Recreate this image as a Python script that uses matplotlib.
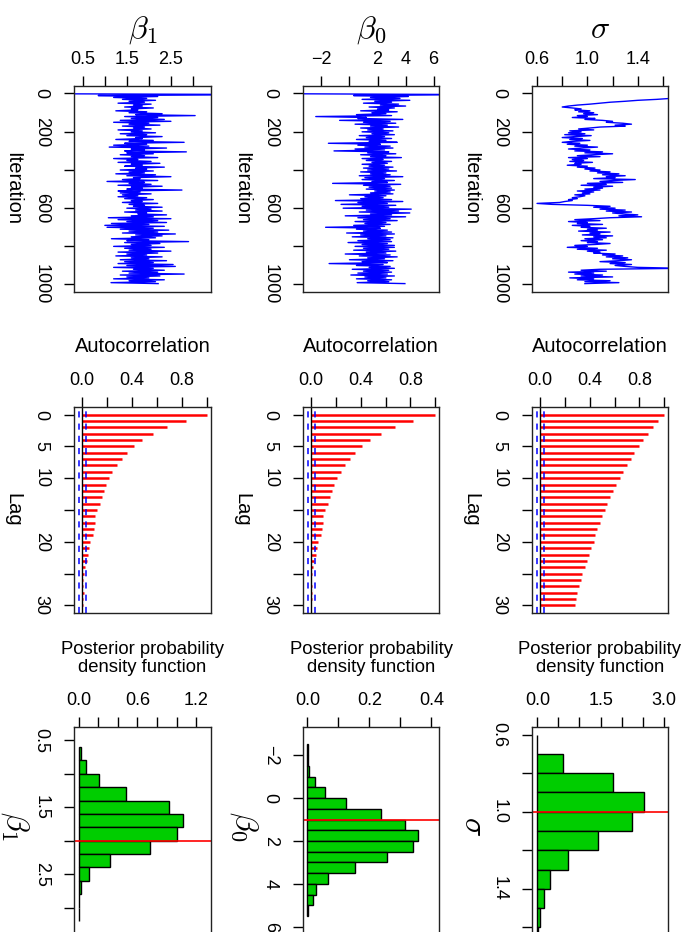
import numpy as np
import matplotlib
matplotlib.use("Agg")
import matplotlib.pyplot as plt

plt.rcParams['font.family'] = ['Liberation Sans', 'DejaVu Sans']
plt.rcParams['mathtext.fontset'] = 'cm'

# ---- MCMC traces (every 5th iteration) ----
iters = np.arange(1, 1001, 5)

beta1_trace = [
    -1.0, 5.0, 0.85, 2.2, 1.2, 1.95, 1.4, 2.15, 1.55, 1.9,
    1.3, 2.05, 1.65, 1.85, 1.45, 2.1, 1.6, 1.75, 1.25, 1.95,
    1.55, 2.3, 1.7, 3.05, 1.45, 2.2, 1.6, 2.35, 1.35, 2.5,
    1.2, 2.0, 1.55, 2.25, 1.4, 1.9, 1.65, 2.05, 1.3, 1.85,
    1.6, 2.15, 1.35, 1.95, 1.5, 2.3, 1.7, 1.85, 1.25, 2.1,
    1.55, 2.8, 1.45, 1.95, 1.2, 2.0, 1.1, 2.4, 1.6, 1.9,
    1.45, 2.85, 1.5, 2.1, 1.35, 1.9, 1.6, 2.2, 1.2, 1.75,
    1.5, 2.05, 1.3, 2.25, 1.6, 1.85, 1.45, 2.35, 1.7, 1.95,
    1.35, 2.1, 1.55, 1.9, 1.25, 2.15, 1.5, 2.5, 1.65, 1.8,
    1.4, 2.2, 1.05, 1.9, 1.55, 2.05, 1.3, 2.3, 1.6, 1.85,
    1.5, 2.75, 1.3, 1.8, 1.35, 2.05, 1.4, 1.75, 1.3, 1.95,
    1.45, 2.1, 1.6, 1.85, 1.4, 2.2, 1.55, 1.9, 1.65, 2.3,
    1.5, 2.05, 1.7, 2.3, 1.45, 1.95, 1.75, 2.4, 1.6, 2.1,
    1.08, 2.5, 1.3, 2.2, 1.5, 2.4, 1.15, 2.0, 1.0, 2.35,
    1.05, 2.1, 1.35, 2.45, 1.55, 2.2, 1.4, 2.6, 1.7, 2.3,
    1.6, 2.15, 1.15, 2.0, 1.5, 2.9, 1.45, 2.25, 1.6, 2.05,
    1.2, 2.35, 1.45, 2.05, 1.55, 2.5, 1.3, 2.2, 1.5, 1.95,
    1.25, 2.3, 1.6, 2.0, 1.35, 2.4, 1.45, 2.1, 1.3, 2.55,
    1.5, 2.6, 1.2, 2.1, 1.65, 2.35, 1.4, 2.2, 1.55, 2.8,
    1.35, 2.25, 1.5, 2.0, 1.2, 2.35, 1.55, 2.15, 1.14, 2.21,
]

beta0_trace = [
    -6.0, 9.0, 0.3, 4.2, 1.5, 3.6, 0.9, 4.3, 1.8, 3.0,
    1.0, 3.5, 2.2, 4.0, 1.4, 3.2, 2.0, 2.8, 0.8, 3.4,
    1.6, 2.6, 0.5, 3.0, -2.4, 1.2, 0.6, 3.8, -0.7, 2.9,
    1.0, 3.3, 0.4, 2.7, 1.5, 3.5, 0.8, 2.4, 1.3, 3.1,
    0.9, 2.8, 1.6, 3.2, 0.7, 2.5, 1.2, 3.0, 0.5, 2.6,
    1.4, 3.4, -1.5, 2.2, 0.6, 2.9, 1.1, 3.1, 0.4, 2.5,
    -1.1, 2.8, 1.3, 3.3, 0.8, 2.6, 1.5, 3.7, 0.9, 2.4,
    1.2, 3.0, 1.6, 2.7, 0.9, 2.5, 1.4, 3.1, 1.0, 2.8,
    1.3, 3.35, 0.8, 2.6, 1.5, 2.9, 0.7, 3.8, 1.1, 2.5,
    0.9, 3.2, 1.6, 2.7, -1.2, 3.65, 1.0, 2.9, 1.4, 3.0,
    1.2, 3.2, 1.8, 2.9, 1.5, 3.1, 0.0, 2.6, 1.1, 2.4,
    0.8, 3.0, -1.0, 3.8, 0.6, 2.7, -0.6, 3.3, 0.9, 2.8,
    -0.45, 4.4, 1.2, 3.5, 0.7, 4.3, 1.5, 3.0, -0.3, 4.0,
    0.6, 2.9, 1.0, 3.4, 0.4, 2.6, 1.1, 2.9, 0.3, 2.5,
    -1.7, 2.2, 0.5, 2.7, 1.0, 3.0, -0.2, 3.2, 0.8, 2.6,
    0.2, 3.1, 1.3, 2.9, 0.6, 3.0, -0.1, 2.7, 0.9, 3.2,
    0.4, 3.2, 1.0, 2.8, 0.3, 3.3, 1.2, 2.6, -0.3, 2.9,
    0.7, 3.4, 1.3, 2.5, 0.0, 3.1, 0.9, 2.7, -1.45, 2.4,
    0.5, 2.9, 1.4, 3.2, 0.2, 2.8, 1.0, 3.0, 0.6, 2.7,
    0.1, 3.2, 1.1, 2.6, 0.5, 3.0, 1.3, 2.8, 0.55, 3.95,
]

sigma_trace = [
    2.6, 2.3, 2.05, 1.85, 1.72, 1.66, 1.55, 1.40, 1.30, 1.18,
    1.10, 1.02, 0.92, 0.85, 0.80, 0.88, 0.95, 0.90, 1.02, 0.93,
    1.05, 0.97, 1.08, 0.92, 1.00, 0.88, 1.06, 0.98, 1.12, 1.20,
    1.15, 1.28, 1.35, 1.22, 1.30, 1.10, 1.02, 0.93, 1.05, 0.86,
    0.95, 0.85, 0.98, 0.82, 1.03, 0.90, 0.80, 0.96, 0.86, 1.02,
    0.88, 0.80, 0.94, 0.84, 1.00, 0.90, 1.08, 0.95, 0.85, 1.02,
    0.90, 1.12, 0.98, 1.20, 1.05, 0.92, 1.10, 0.85, 1.00, 0.88,
    0.97, 0.86, 1.04, 0.90, 0.95, 0.84, 1.00, 0.92, 1.06, 0.98,
    1.10, 1.02, 1.18, 1.08, 1.25, 1.12, 1.30, 1.15, 1.22, 1.05,
    1.38, 1.20, 1.10, 1.28, 1.00, 1.15, 0.95, 1.20, 1.05, 1.12,
    0.98, 1.10, 0.92, 1.05, 0.96, 1.02, 0.90, 0.98, 0.94, 0.88,
    0.92, 0.85, 0.88, 0.82, 0.78, 0.60, 0.72, 1.00, 1.18, 1.05,
    1.22, 1.10, 1.30, 1.15, 1.35, 1.20, 1.28, 1.40, 1.25, 1.43,
    1.18, 1.05, 0.90, 1.10, 0.85, 1.00, 0.92, 1.12, 0.88, 1.02,
    0.95, 1.15, 1.00, 1.08, 0.93, 1.18, 1.02, 1.10, 0.96, 1.20,
    1.05, 1.15, 0.98, 1.12, 0.95, 1.08, 1.00, 1.18, 1.06, 0.90,
    1.00, 0.84, 1.08, 0.92, 1.15, 1.00, 1.10, 1.05, 1.22, 1.12,
    1.28, 1.15, 1.32, 1.20, 1.35, 1.25, 1.10, 1.30, 1.18, 1.35,
    1.22, 1.30, 1.40, 1.75, 1.10, 0.95, 1.15, 0.85, 1.05, 0.90,
    1.12, 0.95, 1.20, 0.86, 1.05, 0.92, 1.18, 0.98, 1.25, 0.98,
]

# ---- autocorrelations, lags 0..30 ----
lags = list(range(31))
beta1_acf = [1.0, 0.83, 0.68, 0.565, 0.48, 0.41, 0.36, 0.315, 0.276, 0.24,
             0.21, 0.19, 0.17, 0.16, 0.138, 0.117, 0.10, 0.10, 0.092, 0.084,
             0.065, 0.054, 0.049, 0.035, 0.024, 0.016, 0.005, 0.003, 0.013,
             0.008, 0.005]
beta0_acf = [1.0, 0.82, 0.675, 0.56, 0.475, 0.41, 0.357, 0.31, 0.27, 0.24,
             0.21, 0.185, 0.165, 0.15, 0.133, 0.108, 0.092, 0.092, 0.084,
             0.076, 0.057, 0.043, 0.035, 0.024, 0.011, 0.008, 0.0, 0.008,
             0.005, 0.003, 0.0]
sigma_acf = [1.0, 0.95, 0.91, 0.87, 0.83, 0.80, 0.76, 0.73, 0.70, 0.67,
             0.64, 0.61, 0.59, 0.565, 0.54, 0.52, 0.50, 0.48, 0.46, 0.445,
             0.43, 0.41, 0.39, 0.38, 0.36, 0.34, 0.33, 0.315, 0.30, 0.29,
             0.28]
acf_band = 0.028

# ---- posterior histograms (bin edges and densities) ----
beta1_edges = [0.6, 0.8, 1.0, 1.2, 1.4, 1.6, 1.8, 2.0, 2.2, 2.4, 2.6, 2.8, 3.0, 3.2]
beta1_dens = [0.024, 0.079, 0.203, 0.48, 0.92, 1.07, 1.00, 0.73, 0.32, 0.11,
              0.02, 0.005, 0.0]
beta0_edges = [-2.5, -2.0, -1.5, -1.0, -0.5, 0.0, 0.5, 1.0, 1.5, 2.0, 2.5,
               3.0, 3.5, 4.0, 4.5, 5.0, 5.5]
beta0_dens = [0.002, 0.002, 0.004, 0.025, 0.056, 0.125, 0.239, 0.316, 0.358,
              0.341, 0.258, 0.154, 0.068, 0.028, 0.018, 0.003]
sigma_edges = [0.6, 0.7, 0.8, 0.9, 1.0, 1.1, 1.2, 1.3, 1.4, 1.5, 1.6, 1.7]
sigma_dens = [0.0, 0.61, 1.805, 2.526, 2.249, 1.433, 0.72, 0.293, 0.158,
              0.063, 0.01]
true_vals = [2.0, 1.0, 1.0]

names = [r'$\beta_1$', r'$\beta_0$', r'$\sigma$']
traces = [beta1_trace, beta0_trace, sigma_trace]
acfs = [beta1_acf, beta0_acf, sigma_acf]
edges = [beta1_edges, beta0_edges, sigma_edges]
dens = [beta1_dens, beta0_dens, sigma_dens]

# value axes (shared by trace and histogram panels)
val_lims = [(0.30, 3.41), (-3.31, 6.38), (0.56, 1.64)]
val_ticks = [[0.5, 1.0, 1.5, 2.0, 2.5, 3.0], [-2, 0, 2, 4, 6],
             [0.6, 0.8, 1.0, 1.2, 1.4, 1.6]]
val_labels = [['0.5', '', '1.5', '', '2.5', ''], ['−2', '', '2', '4', '6'],
              ['0.6', '', '1.0', '', '1.4', '']]
hist_val_labels = [['0.5', '', '1.5', '', '2.5', ''], ['−2', '0', '2', '4', '6'],
                   ['0.6', '', '1.0', '', '1.4', '']]
iter_ticks = [0, 200, 400, 600, 800, 1000]
iter_labels = ['0', '200', '', '600', '', '1000']
acf_ticks = [0.0, 0.2, 0.4, 0.6, 0.8, 1.0]
acf_labels = ['0.0', '', '0.4', '', '0.8', '']
lag_ticks = [0, 5, 10, 15, 20, 25, 30]
lag_labels = ['0', '5', '10', '', '20', '', '30']
dens_lims = [(-0.048, 1.351), (-0.014, 0.425), (-0.127, 3.10)]
dens_ticks = [[0, 0.2, 0.4, 0.6, 0.8, 1.0, 1.2], [0, 0.1, 0.2, 0.3, 0.4],
              [0, 0.5, 1.0, 1.5, 2.0, 2.5, 3.0]]
dens_labels = [['0.0', '', '', '0.6', '', '', '1.2'], ['0.0', '', '0.2', '', '0.4'],
               ['0.0', '', '', '1.5', '', '', '3.0']]

W, H = 689, 932
fig = plt.figure(figsize=(W / 100, H / 100), dpi=100)

cols = [(74, 211), (303, 439), (532, 668)]
rows = [(86, 292), (407, 613), (727, 935)]


def make_ax(c, r):
    x0, x1 = cols[c]
    y0, y1 = rows[r]
    ax = fig.add_axes([x0 / W, 1 - y1 / H, (x1 - x0) / W, (y1 - y0) / H])
    for s in ax.spines.values():
        s.set_linewidth(1.0)
        s.set_color('#222222')
    return ax


def style(ax, xt, xl, yt, yl):
    ax.xaxis.tick_top()
    ax.set_xticks(xt)
    ax.set_xticklabels(xl)
    ax.set_yticks(yt)
    ax.set_yticklabels(yl, rotation=-90, va='center')
    ax.tick_params(axis='x', top=True, bottom=False, length=7, width=1,
                   pad=6, labelsize=13)
    ax.tick_params(axis='y', left=True, right=False, length=7.5, width=1,
                   pad=10, labelsize=13)


def ftext(x, y, s, **kw):
    fig.text(x / W, 1 - y / H, s, ha='center', va='center', **kw)


for c in range(3):
    cx = (cols[c][0] + cols[c][1]) / 2
    lx = cols[c][0] - 61  # left margin label position

    # trace plot
    ax = make_ax(c, 0)
    ax.plot(traces[c], iters, color='blue', lw=1.0)
    ax.set_xlim(val_lims[c])
    ax.set_ylim(1040, -39)
    style(ax, val_ticks[c], val_labels[c], iter_ticks, iter_labels)
    ftext(cx, 30, names[c], fontsize=23)
    ftext(lx, 189, 'Iteration', fontsize=14.5, rotation=-90)

    # autocorrelation
    ax = make_ax(c, 1)
    ax.hlines(lags, 0, acfs[c], color='red', lw=1.8)
    ax.axvline(0, color='black', lw=1.0)
    for b in (-acf_band, acf_band):
        ax.axvline(b, color='blue', lw=1.1, dashes=(4, 4))
    ax.set_xlim(-0.066, 1.03)
    ax.set_ylim(31.2, -1.2)
    style(ax, acf_ticks, acf_labels, lag_ticks, lag_labels)
    ftext(cx, 347, 'Autocorrelation', fontsize=14.5)
    ftext(lx, 510, 'Lag', fontsize=14.5, rotation=-90)

    # posterior histogram
    ax = make_ax(c, 2)
    e = edges[c]
    ax.barh(e[:-1], dens[c], height=np.diff(e), align='edge',
            color='#00CD00', edgecolor='black', lw=1.0)
    ax.axhline(true_vals[c], color='red', lw=1.2)
    ax.set_xlim(dens_lims[c])
    ax.set_ylim(val_lims[c][1], val_lims[c][0])
    style(ax, dens_ticks[c], dens_labels[c], val_ticks[c], hist_val_labels[c])
    ftext(cx, 650, 'Posterior probability', fontsize=13.3)
    ftext(cx, 667, 'density function', fontsize=13.3)
    ftext(lx + 2, 826, names[c], fontsize=23, rotation=-90)

fig.savefig('out.png', dpi=100)
